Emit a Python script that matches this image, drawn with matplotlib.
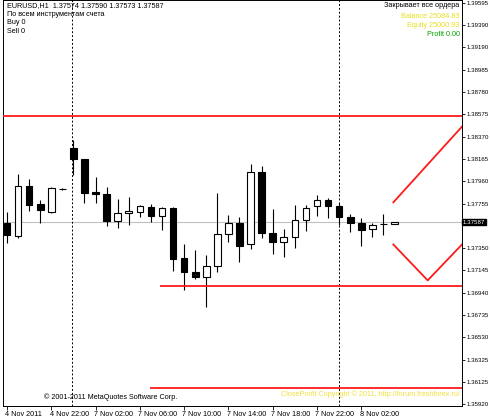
import numpy as np
import matplotlib.pyplot as plt
from matplotlib.transforms import blended_transform_factory

plt.rcParams['font.family'] = ['Liberation Sans', 'DejaVu Sans']

# EURUSD H1 candles
opens = [1.37583, 1.37464, 1.37921, 1.37757, 1.37683, 1.37894, 1.38268, 1.38168, 1.37866,
         1.37848, 1.37601, 1.37674, 1.37683, 1.37729, 1.37647, 1.37720, 1.37254, 1.37126,
         1.37080, 1.37181, 1.37482, 1.37583, 1.37382, 1.38049, 1.37491, 1.37409, 1.37455,
         1.37610, 1.37738, 1.37793, 1.37738, 1.37638, 1.37583, 1.37528, 1.37566, 1.37574]
highs = [1.37683, 1.38031, 1.37985, 1.37793, 1.37912, 1.37900, 1.38341, 1.38168, 1.38003,
         1.37912, 1.37802, 1.37821, 1.37747, 1.37757, 1.37729, 1.37729, 1.37382, 1.37327,
         1.37290, 1.37857, 1.37656, 1.37638, 1.38122, 1.38104, 1.37711, 1.37528, 1.37747,
         1.37747, 1.37839, 1.37812, 1.37766, 1.37665, 1.37628, 1.37583, 1.37665, 1.37590]
lows = [1.37391, 1.37437, 1.37692, 1.37583, 1.37674, 1.37885, 1.38022, 1.37766, 1.37766,
        1.37555, 1.37537, 1.37564, 1.37638, 1.37592, 1.37519, 1.37135, 1.36961, 1.37062,
        1.36806, 1.37126, 1.37409, 1.37217, 1.37336, 1.37437, 1.37299, 1.37263, 1.37354,
        1.37510, 1.37647, 1.37628, 1.37564, 1.37500, 1.37372, 1.37455, 1.37473, 1.37573]
closes = [1.37473, 1.37921, 1.37747, 1.37702, 1.37903, 1.37890, 1.38168, 1.37857, 1.37848,
          1.37601, 1.37674, 1.37692, 1.37738, 1.37647, 1.37720, 1.37245, 1.37126, 1.37080,
          1.37181, 1.37482, 1.37583, 1.37372, 1.38049, 1.37491, 1.37409, 1.37455, 1.37610,
          1.37720, 1.37793, 1.37738, 1.37638, 1.37583, 1.37519, 1.37564, 1.37570, 1.37587]

price_ticks = [1.39595, 1.39390, 1.39190, 1.38985, 1.38780, 1.38575, 1.38370, 1.38165,
               1.37960, 1.37755, 1.37350, 1.37145, 1.36940, 1.36735, 1.36530, 1.36325,
               1.36125, 1.35920]
time_ticks = [0, 4, 8, 12, 16, 20, 24, 28, 32]
time_labels = ['4 Nov 2011', '4 Nov 22:00', '7 Nov 02:00', '7 Nov 06:00', '7 Nov 10:00',
               '7 Nov 14:00', '7 Nov 18:00', '7 Nov 22:00', '8 Nov 02:00']
separators = [5.85, 30.0]
last_price = 1.37587

# red levels drawn by the expert
level_top = 1.38560
level_mid = (1.37000, 13.8)
level_low = (1.36070, 12.9)
arrow_up_x = [34.9, 41.1]
arrow_up_y = [1.37768, 1.38462]
arrow_dn_x = [34.9, 38.0, 41.1]
arrow_dn_y = [1.37382, 1.37053, 1.37382]

FS = 5.2
YFS = 4.4
fig = plt.figure(figsize=(4.9, 4.2), dpi=100)
ax = fig.add_axes([3 / 490, 14 / 420, 459 / 490, 406 / 420])
ax.set_xlim(-0.36, 41.1)
ax.set_ylim(1.35902, 1.39622)

ax.axhline(last_price, color='#c0c0c0', lw=0.8, zorder=1)
for s in separators:
    ax.axvline(s, color='black', lw=0.7, ls=(0, (2, 2)), zorder=1)

w = 0.6
for i, (o, h, l, c) in enumerate(zip(opens, highs, lows, closes)):
    ax.vlines(i, l, h, color='black', lw=0.8, zorder=2)
    lo, hi = min(o, c), max(o, c)
    face = 'white' if c >= o else 'black'
    ax.bar(i, max(hi - lo, 0.00002), width=w, bottom=lo, color=face,
           edgecolor='black', linewidth=0.8, zorder=3)

ax.axhline(level_top, color='#ff1a1a', lw=1.3, zorder=4)
ax.hlines(level_mid[0], level_mid[1], 41.1, color='#ff1a1a', lw=1.3, zorder=4)
ax.hlines(level_low[0], level_low[1], 41.1, color='#ff1a1a', lw=1.3, zorder=4)
ax.plot(arrow_up_x, arrow_up_y, color='#ff1a1a', lw=1.3, zorder=4)
ax.plot(arrow_dn_x, arrow_dn_y, color='#ff1a1a', lw=1.3, zorder=4)

# right price axis
ax.yaxis.tick_right()
ax.set_yticks(price_ticks)
ax.set_yticklabels([f'{p:.5f}' for p in price_ticks], fontsize=YFS)
ax.tick_params(axis='y', length=2.0, width=0.6, pad=1.0)
ax.text(1.002, last_price, f'{last_price:.5f}', transform=blended_transform_factory(ax.transAxes, ax.transData),
        fontsize=YFS, color='white', va='center', ha='left',
        bbox=dict(boxstyle='square,pad=0.1', fc='black', ec='black'))

ax.set_xticks(time_ticks)
ax.set_xticklabels([])
ax.tick_params(axis='x', length=3, width=0.6)
tr = blended_transform_factory(ax.transData, ax.transAxes)
for t, lab in zip(time_ticks, time_labels):
    ax.text(t - 0.15, -0.012, lab, transform=tr, fontsize=FS, ha='left', va='top')

for sp in ax.spines.values():
    sp.set_linewidth(0.7)

# info texts
ax.text(0.008, 0.995, 'EURUSD,H1  1.37574 1.37590 1.37573 1.37587\nПо всем инструментам счета\nBuy 0\nSell 0',
        transform=ax.transAxes, fontsize=FS, va='top', ha='left', linespacing=1.3)
ax.text(0.995, 0.995, 'Закрывает все ордера', transform=ax.transAxes, fontsize=FS, va='top', ha='right')
ax.text(0.995, 0.968, 'Balance 25084.83', transform=ax.transAxes, fontsize=FS, va='top', ha='right', color='#e8e020')
ax.text(0.995, 0.946, 'Equity 25000.93', transform=ax.transAxes, fontsize=FS, va='top', ha='right', color='#e8e020')
ax.text(0.995, 0.924, 'Profit 0.00', transform=ax.transAxes, fontsize=FS, va='top', ha='right', color='#00a000')
ax.text(0.09, 0.012, '© 2001-2011 MetaQuotes Software Corp.', transform=ax.transAxes, fontsize=FS, va='bottom')
ax.text(0.995, 0.02, 'CloseProfit Copyright © 2011, http://forum.freshforex.ru/', transform=ax.transAxes,
        fontsize=FS, va='bottom', ha='right', color='#f0e040')

fig.savefig('out.png', dpi=100)
